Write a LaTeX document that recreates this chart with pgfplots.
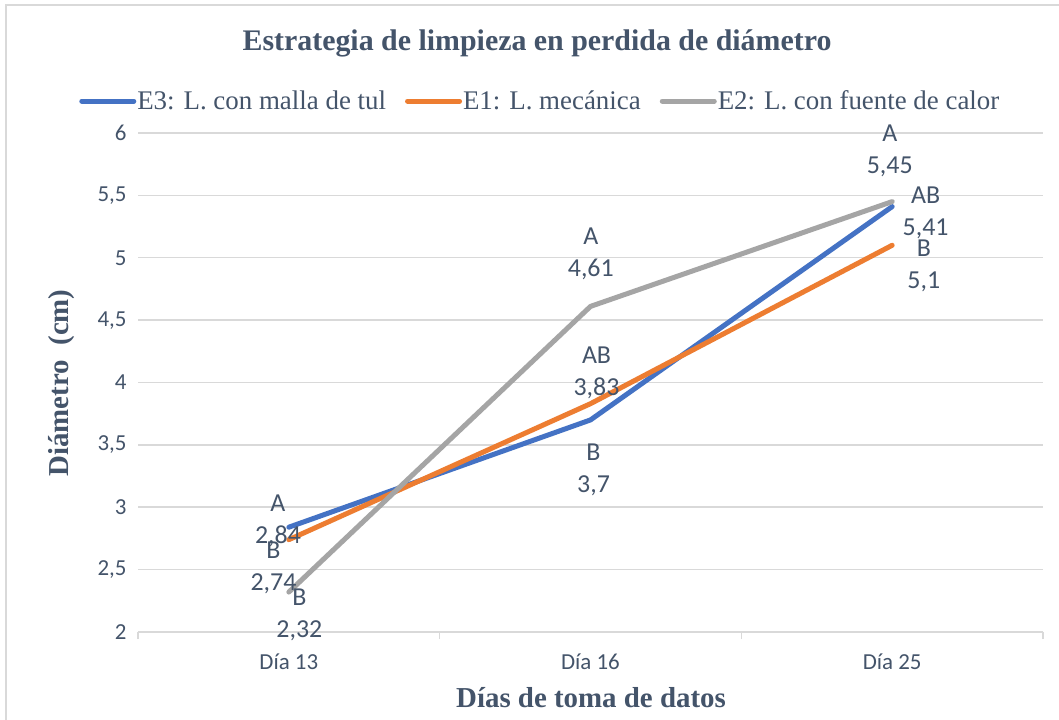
\documentclass[border=0pt]{standalone}
\usepackage{pgfplots}
\pgfplotsset{compat=1.18}
\usepackage{fontspec}
\setmainfont{Liberation Serif}
\newfontfamily\carlito{Carlito}
\definecolor{cblue}{HTML}{4472C4}
\definecolor{corange}{HTML}{ED7D31}
\definecolor{cgray}{HTML}{A5A5A5}
\definecolor{ctext}{HTML}{44546A}
\definecolor{cgrid}{HTML}{D9D9D9}
\begin{document}
\begin{tikzpicture}
\useasboundingbox (0,0) rectangle (1059bp,720bp);
\fill[white] (0,0) rectangle (1059bp,720bp);
\draw[cgrid, line width=1.5bp] (6bp,-5bp) -- (6bp,715bp) -- (1070bp,715bp);
\begin{axis}[
  at={(138bp,88bp)}, anchor=south west, scale only axis,
  width=905bp, height=499bp,
  xmin=-0.5, xmax=2.5, ymin=2, ymax=6,
  clip=false,
  axis x line*=bottom, axis y line*=left,
  y axis line style={draw=none},
  x axis line style={draw=cgrid, line width=1.5bp, -},
  ymajorgrids, grid style={draw=cgrid, line width=1.5bp},
  ytick={2,2.5,3,3.5,4,4.5,5,5.5,6},
  yticklabels={2,{2,5},3,{3,5},4,{4,5},5,{5,5},6},
  major y tick style={draw=none},
  xtick={0,1,2},
  xticklabels={Día 13,Día 16,Día 25},
  major x tick style={draw=none},
  extra x ticks={-0.5,0.5,1.5,2.5},
  extra x tick labels={},
  extra x tick style={grid=none, tick align=outside, major tick length=7bp,
     major x tick style={draw=cgrid, line width=1.5bp}},
  yticklabel style={font=\carlito\fontsize{23}{28}\selectfont, text=ctext, anchor=east, xshift=-8bp},
  xticklabel style={font=\carlito\fontsize{23}{28}\selectfont, text=ctext, anchor=north, yshift=-18bp},
  legend columns=3,
  legend style={at={(0.444,1.064)}, anchor=center, draw=none, fill=none,
     font=\fontsize{27}{32}\selectfont, text=ctext,
     /tikz/every even column/.append style={column sep=18bp},
     nodes={inner sep=1bp}},
  legend image code/.code={\draw[#1, line cap=round] (0bp,0bp) -- (52bp,0bp);},
  every axis plot/.append style={line width=5bp, line join=round, line cap=round},
]
\addplot[cblue] coordinates {(0,2.84) (1,3.7) (2,5.41)};
\addlegendentry{E3: L. con malla de tul}
\addplot[corange] coordinates {(0,2.74) (1,3.83) (2,5.1)};
\addlegendentry{E1: L. mecánica}
\addplot[cgray] coordinates {(0,2.32) (1,4.61) (2,5.45)};
\addlegendentry{E2: L. con fuente de calor}
\begin{scope}[every node/.style={align=center, text=ctext, inner sep=0pt,
    font=\carlito\fontsize{26}{32}\selectfont}]
\node at (axis cs:-0.036,2.890) {A\\2,84};
\node at (axis cs:-0.051,2.513) {B\\2,74};
\node at (axis cs:0.035,2.140) {B\\2,32};
\node at (axis cs:1.001,5.030) {A\\4,61};
\node at (axis cs:1.020,4.076) {AB\\3,83};
\node at (axis cs:1.010,3.303) {B\\3,7};
\node at (axis cs:1.992,5.856) {A\\5,45};
\node at (axis cs:2.111,5.359) {AB\\5,41};
\node at (axis cs:2.105,4.938) {B\\5,1};
\end{scope}
\end{axis}
\node[text=ctext, font=\bfseries\fontsize{30}{34}\selectfont] at (537bp,677bp) {Estrategia de limpieza en perdida de diámetro};
\node[text=ctext, font=\bfseries\fontsize{29}{34}\selectfont] at (591bp,22bp) {Días de toma de datos};
\node[text=ctext, font=\bfseries\fontsize{29}{34}\selectfont, rotate=90] at (62bp,337bp) {Diámetro~~(cm)};
\end{tikzpicture}
\end{document}
